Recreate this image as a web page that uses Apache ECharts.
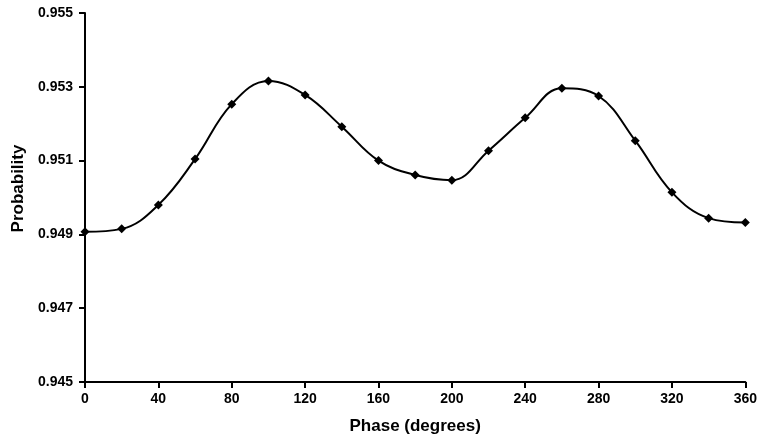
<!DOCTYPE html>
<html>
<head>
<meta charset="utf-8">
<script src="https://cdn.jsdelivr.net/npm/echarts@6/dist/echarts.min.js"></script>
<style>html,body{margin:0;padding:0;background:#fff}#c{width:760px;height:443px}</style>
</head>
<body>
<div id="c"></div>
<script>
var phases = [0,20,40,60,80,100,120,140,160,180,200,220,240,260,280,300,320,340,360];
var probability = [0.94907,0.94915,0.94980,0.95104,0.95253,0.95316,0.95278,0.95192,0.95100,0.95061,0.95047,0.95127,0.95216,0.95296,0.95275,0.95154,0.95014,0.94944,0.94932];
var xTicks = [0,40,80,120,160,200,240,280,320,360];
var yTicks = [0.945,0.947,0.949,0.951,0.953,0.955];

var font = '"Liberation Sans", Arial, sans-serif';
var data = phases.map(function(p,i){return [p, probability[i]];});
var chart = echarts.init(document.getElementById('c'));
var lineStyle = {color:'#000', width:2};
chart.setOption({
  animation:false,
  backgroundColor:'#fff',
  grid:{left:85, right:13, top:13, bottom:61, containLabel:false},
  xAxis:{
    type:'value', min:0, max:360, interval:40, position:'bottom',
    name:'Phase (degrees)', nameLocation:'middle', nameGap:36,
    nameTextStyle:{fontFamily:font, fontWeight:'bold', fontSize:17, color:'#000'},
    axisLine:{show:true, onZero:false, lineStyle:lineStyle},
    axisTick:{show:true, length:6, lineStyle:lineStyle, customValues:xTicks},
    axisLabel:{color:'#000', fontFamily:font, fontWeight:'bold', fontSize:14, margin:10, customValues:xTicks},
    splitLine:{show:false}
  },
  yAxis:{
    type:'value', min:0.945, max:0.955, interval:0.001, position:'left',
    name:'Probability', nameLocation:'middle', nameGap:56, nameRotate:90,
    nameTextStyle:{fontFamily:font, fontWeight:'bold', fontSize:17, color:'#000', padding:[0,0,0,18]},
    axisLine:{show:true, onZero:false, lineStyle:lineStyle},
    axisTick:{show:true, length:6, lineStyle:lineStyle, customValues:yTicks},
    axisLabel:{color:'#000', fontFamily:font, fontWeight:'bold', fontSize:14, margin:12, customValues:yTicks,
      formatter:function(v){return v.toFixed(3);}},
    splitLine:{show:false}
  },
  series:[{
    type:'line', data:data, smooth:0.4,
    symbol:'diamond', symbolSize:9,
    itemStyle:{color:'#000'},
    lineStyle:{color:'#000', width:2},
    clip:false
  }]
});
</script>
</body>
</html>
